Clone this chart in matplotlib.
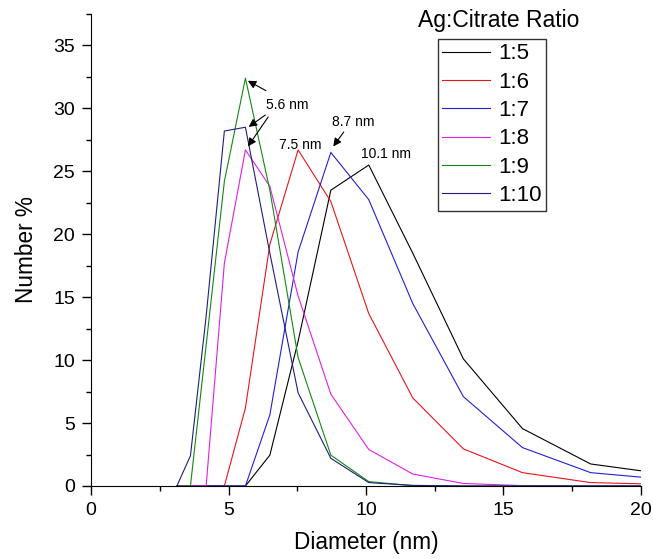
import matplotlib
matplotlib.use("Agg")
import matplotlib.pyplot as plt
from matplotlib.ticker import MultipleLocator

plt.rcParams['font.family'] = ['Liberation Sans', 'DejaVu Sans']

diam = [3.122, 3.615, 4.187, 4.849, 5.615, 6.503, 7.531, 8.721, 10.10, 11.70, 13.54, 15.69, 18.17, 21.04]
r_1_5  = [0, 0, 0, 0, 0, 2.45, 11.5, 23.5, 25.5, 18.5, 10.1, 4.56, 1.75, 0.9]
r_1_6  = [0, 0, 0, 0, 6.2, 19.2, 26.7, 22.6, 13.7, 7.0, 2.95, 1.06, 0.27, 0.12]
r_1_7  = [0, 0, 0, 0, 0, 5.65, 18.6, 26.5, 22.75, 14.5, 7.1, 3.05, 1.06, 0.5]
r_1_8  = [0, 0, 0, 17.7, 26.7, 23.8, 15.1, 7.3, 2.9, 0.95, 0.2, 0.03, 0, 0]
r_1_9  = [0, 0, 11.2, 24.2, 32.4, 23.5, 10.2, 2.45, 0.35, 0.02, 0, 0, 0, 0]
r_1_10 = [0, 2.4, 13.5, 28.2, 28.5, 18.5, 7.4, 2.2, 0.27, 0.05, 0, 0, 0, 0]

labels = ['1:5', '1:6', '1:7', '1:8', '1:9', '1:10']
series = [r_1_5, r_1_6, r_1_7, r_1_8, r_1_9, r_1_10]
colors = ['#000000', '#e8141c', '#2020d8', '#e020e0', '#108a10', '#1e1e80']

fig = plt.figure(figsize=(6.53, 5.59), dpi=100)
ax = fig.add_axes([0.1394, 0.1306, 0.8422, 0.8444])

for lab, ys, c in zip(labels, series, colors):
    ax.plot(diam, ys, color=c, lw=0.8, label=lab)

ax.set_xlim(0, 20)
ax.set_ylim(0, 37.5)
ax.spines['top'].set_visible(False)
ax.spines['right'].set_visible(False)
ax.xaxis.set_major_locator(MultipleLocator(5))
ax.xaxis.set_minor_locator(MultipleLocator(2.5))
ax.yaxis.set_major_locator(MultipleLocator(5))
ax.yaxis.set_minor_locator(MultipleLocator(2.5))
ax.tick_params(which='major', direction='out', length=6.5, width=1, labelsize=14, pad=5)
ax.tick_params(which='minor', direction='out', length=3.3, width=1)
ax.set_xlabel('Diameter (nm)', fontsize=16.3, labelpad=9)
ax.set_ylabel('Number %', fontsize=16.3, labelpad=11)

# annotations
arrow = dict(arrowstyle='-|>', color='black', lw=0.8, mutation_scale=12)
ax.text(7.12, 30.3, '5.6 nm', fontsize=10, ha='center', va='center')
ax.annotate('', xy=(5.615, 32.3), xytext=(6.45, 31.3), arrowprops=arrow)
ax.annotate('', xy=(5.65, 28.4), xytext=(6.42, 29.6), arrowprops=arrow)
ax.annotate('', xy=(5.65, 26.8), xytext=(6.5, 29.5), arrowprops=arrow)
ax.text(7.62, 27.1, '7.5 nm', fontsize=10, ha='center', va='center')
ax.text(9.55, 28.9, '8.7 nm', fontsize=10, ha='center', va='center')
ax.annotate('', xy=(8.75, 26.8), xytext=(9.25, 28.3), arrowprops=arrow)
ax.text(10.72, 26.35, '10.1 nm', fontsize=10, ha='center', va='center')

leg = ax.legend(loc='upper left', bbox_to_anchor=(438/653, 1-39/559), bbox_transform=fig.transFigure,
                fontsize=16, frameon=True, fancybox=False, shadow=False,
                borderpad=0.2, borderaxespad=0, handlelength=2.15, handletextpad=0.35,
                labelspacing=0.33)
leg.get_frame().set_edgecolor('black')
leg.get_frame().set_linewidth(1.0)
fig.text(499/653, 1-20/559, 'Ag:Citrate Ratio', fontsize=16.5, ha='center', va='center')

fig.savefig('out.png', dpi=100)
